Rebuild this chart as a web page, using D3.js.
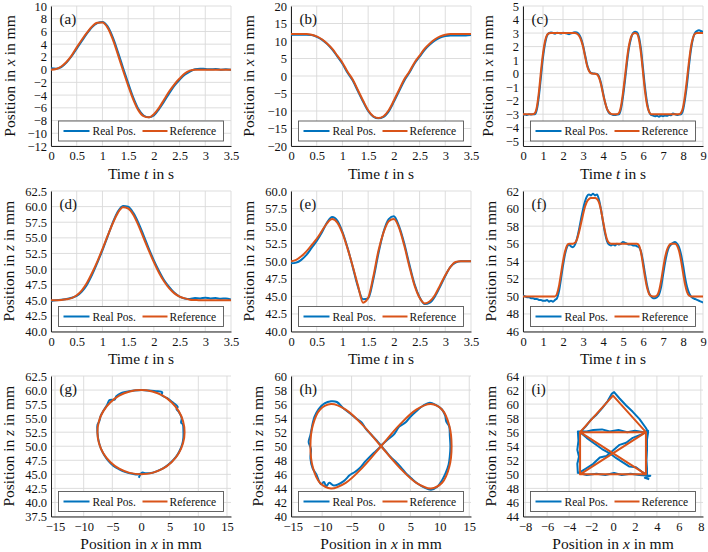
<!DOCTYPE html>
<html><head><meta charset="utf-8">
<script src="https://cdn.jsdelivr.net/npm/d3@7"></script>
<style>body{margin:0;background:#fff}svg{display:block}</style>
</head><body><svg id="c" width="708" height="552"></svg>
<script>
// ---------------- DATA ----------------
const legendLabels = ["Real Pos.", "Reference"];
const panelLetters = ["(a)","(b)","(c)","(d)","(e)","(f)","(g)","(h)","(i)"];

const ticksT35 = [0,0.5,1,1.5,2,2.5,3,3.5];
const ticksT9 = [0,1,2,3,4,5,6,7,8,9];
const ticksYA = [-12,-10,-8,-6,-4,-2,0,2,4,6,8,10];
const ticksYB = [-20,-15,-10,-5,0,5,10,15,20];
const ticksYC = [-5,-4,-3,-2,-1,0,1,2,3,4,5];
const ticksYD = [40,42.5,45,47.5,50,52.5,55,57.5,60,62.5];
const ticksYE = [40,42.5,45,47.5,50,52.5,55,57.5,60];
const ticksYF = [46,48,50,52,54,56,58,60,62];
const ticksXG = [-15,-10,-5,0,5,10,15];
const ticksYG = [37.5,40,42.5,45,47.5,50,52.5,55,57.5,60,62.5];
const ticksXH = [-15,-10,-5,0,5,10,15];
const ticksYH = [40,42,44,46,48,50,52,54,56,58,60];
const ticksXI = [-8,-6,-4,-2,0,2,4,6,8];
const ticksYI = [44,46,48,50,52,54,56,58,60,62,64];

// time samples (0.1 s spacing)
const time35 = d3.range(36).map(i => i / 10);
const time9 = d3.range(91).map(i => i / 10);

const aRef = [0,0.1,0.5,1.2,2.2,3.5,4.7,5.8,6.8,7.35,7.4,6.6,4.8,2.4,-0.1,-2.5,-4.7,-6.4,-7.3,-7.5,-7.0,-6.0,-4.7,-3.4,-2.3,-1.4,-0.6,-0.15,0,0,0,0,0,0,0,0];
const aReal = [0.2,0.15,0.4,1.1,2.1,3.3,4.5,5.7,6.7,7.3,7.5,6.8,5.1,2.8,0.3,-2.1,-4.4,-6.2,-7.2,-7.5,-7.2,-6.2,-5.0,-3.7,-2.5,-1.6,-0.8,-0.3,0.05,0.15,0.1,0.05,0.1,0,0.05,0];

const bRef = [12,12,12,12,11.8,11.3,10.5,9.3,7.8,5.8,3.8,1.2,-1,-4,-7,-9.8,-11.5,-12,-11.5,-9.8,-7,-4,-1,1.2,3.8,5.8,7.8,9.3,10.5,11.3,11.8,12,12,12,12,12];
const bReal = [11.8,11.8,11.8,11.8,11.7,11.2,10.4,9.2,7.6,5.6,3.5,0.9,-1.3,-4.3,-7.3,-10.0,-11.6,-12.1,-11.7,-10.1,-7.4,-4.4,-1.4,0.9,3.5,5.5,7.5,9.0,10.2,11.0,11.4,11.6,11.6,11.6,11.6,11.7];

const cRef = [-3,-3,-3,-3,-3,-3,
  -2.9,-2.4,-1.3,0.2,1.5,2.4,2.85,2.98,3,
  3,3,3,3,3,3,3,3,3,3,3,3,
  2.95,2.8,2.5,2.0,1.3,0.6,0.2,0.03,0,0,-0.05,-0.3,-0.8,-1.5,-2.1,-2.6,-2.85,-2.97,-3,-3,-3,
  -2.9,-2.4,-1.4,-0.2,1.1,2.1,2.7,2.95,3,2.95,2.5,1.5,0.1,-1.3,-2.3,-2.8,-3,
  -3,-3,-3,-3,-3,-3,-3,-3,-3,-3,-3,-3,-3,-3,
  -2.9,-2.5,-1.6,-0.4,0.9,2.0,2.65,2.95,3,
  3,3,3];
const cReal = [-3.05,-3.02,-3.05,-3.0,-3.03,-3.0,
  -3.0,-2.6,-1.6,-0.2,1.2,2.2,2.8,3.0,3.05,
  3.0,2.95,3.02,3.0,2.97,3.03,3.0,2.96,2.92,2.98,3.02,3.06,
  3.05,2.9,2.6,2.1,1.4,0.7,0.25,0.05,0.02,0.0,-0.02,-0.2,-0.7,-1.4,-2.1,-2.6,-2.9,-3.0,-3.05,-3.05,-3.02,
  -3.0,-2.6,-1.7,-0.5,0.8,1.9,2.6,3.0,3.1,3.05,2.7,1.8,0.4,-1.0,-2.1,-2.8,-3.05,
  -3.1,-3.15,-3.12,-3.18,-3.1,-3.15,-3.1,-3.12,-3.05,-3.08,-2.95,-3.0,-3.05,-3.02,
  -3.0,-2.7,-1.9,-0.8,0.6,1.8,2.6,3.0,3.15,
  3.2,3.15,3.1];

const dRef = [45,45,45.05,45.15,45.35,45.8,46.6,47.8,49.4,51.2,53.2,55.3,57.3,59.0,59.9,59.7,58.7,57.0,55.0,53.0,51.1,49.4,48.0,46.9,46.1,45.6,45.3,45.1,45.05,45,45,45,45,45,45,45];
const dReal = [44.9,45.0,45.1,45.2,45.4,45.7,46.4,47.5,49.1,51.0,53.0,55.2,57.4,59.2,60.1,60.0,59.0,57.4,55.4,53.3,51.4,49.7,48.2,47.1,46.2,45.6,45.3,45.2,45.35,45.3,45.4,45.3,45.35,45.25,45.3,45.1];

const eRef = [50.0,50.2,50.7,51.4,52.3,53.2,54.3,55.4,56.0,55.5,54.0,51.8,49.3,46.6,44.1,44.8,47.8,51.5,54.1,55.7,56.0,54.8,52.3,49.3,46.6,44.8,44.0,44.3,45.2,46.6,48.0,49.2,49.9,50,50,50];
const eReal = [49.7,49.8,50.2,50.9,51.9,52.9,54.1,55.5,56.3,55.8,54.2,51.9,49.2,46.4,44.6,44.7,47.4,51.1,54.2,56.0,56.4,55.0,52.6,49.6,46.8,44.9,43.9,44.1,45.0,46.4,47.9,49.2,49.8,50.0,50.0,50.0];

const fRef = [50,50,50,50,50,50,50,50,50,50,50,50,50,50,50,50,50,
  50.3,51.2,52.6,54.0,55.1,55.8,56.0,56.0,56.0,56.1,56.5,57.3,58.3,59.3,60.2,60.8,61.1,61.2,61.2,61.2,61.1,60.7,59.8,58.6,57.4,56.5,56.1,
  56,56,56,56,56,56,56,56,56,56,56,56,56,56,
  55.8,55.0,53.6,52.2,51.0,50.3,50.05,50,50,50.1,50.6,51.7,53.1,54.4,55.3,55.8,56.0,56.0,56.0,55.8,55.2,54.1,52.7,51.4,50.5,50.1,
  50,50,50,50,50,50,50];
const fReal = [50.1,50.0,49.9,49.9,49.8,49.8,49.7,49.7,49.6,49.6,49.5,49.5,49.6,49.4,49.5,49.4,49.6,
  49.8,50.6,52.0,53.5,54.8,55.6,55.9,55.7,55.6,55.9,56.6,57.6,58.8,59.9,60.8,61.4,61.6,61.5,61.7,61.5,61.6,61.0,59.9,58.5,57.2,56.3,55.9,
  55.8,55.9,55.8,56.0,55.9,56.0,56.2,56.1,56.0,55.9,55.9,55.8,55.8,55.7,
  55.6,55.1,54.0,52.6,51.3,50.4,50.0,49.8,49.8,49.9,50.2,51.0,52.4,53.8,54.9,55.6,55.9,56.1,56.2,56.0,55.6,54.8,53.6,52.2,51.1,50.4,
  50.0,49.8,49.7,49.6,49.5,49.4,49.3];

const gRefX = [0,1.97,3.8,5.37,6.58,7.34,7.6,7.34,6.58,5.37,3.8,1.97,0,-1.97,-3.8,-5.37,-6.58,-7.34,-7.6,-7.34,-6.58,-5.37,-3.8,-1.97];
const gRefZ = [45,45.26,46.0,47.2,48.75,50.56,52.5,54.44,56.25,57.8,59.0,59.74,60,59.74,59.0,57.8,56.25,54.44,52.5,50.56,48.75,47.2,46.0,45.26];
const gRealX = [-0.4,0.2,0.8,2.0,3.1,4.2,5.2,6.1,6.7,7.2,7.4,7.4,7.3,7.0,7.1,6.6,6.2,6.4,5.4,4.5,3.6,3.7,2.6,1.4,0.2,-1.2,-2.5,-3.4,-4.3,-4.6,-5.5,-5.9,-6.5,-7.0,-7.3,-7.6,-7.6,-7.4,-7.0,-6.4,-5.7,-4.8,-3.8,-2.7,-1.5,-0.4,0.3];
const gRealZ = [44.4,45.3,45.2,45.3,45.7,46.3,47.1,48.1,49.1,50.4,51.6,52.8,53.9,54.2,55.0,56.1,56.6,57.0,57.9,58.6,59.1,59.6,59.8,59.9,60.0,59.9,59.7,59.5,58.9,58.3,58.2,57.4,56.4,55.5,54.4,53.8,52.5,51.0,49.6,48.4,47.4,46.5,45.9,45.4,45.1,45.0,45.3];

const hRefX = [0,3.11,6,8.49,10.39,11.59,12,11.59,10.39,8.49,6,3.11,0,-3.11,-6,-8.49,-10.39,-11.59,-12,-11.59,-10.39,-8.49,-6,-3.11];
const hRefZ = [50,53,55.2,56,55.2,53,50,47,44.8,44,44.8,47,50,53,55.2,56,55.2,53,50,47,44.8,44,44.8,47];
const hRealX = [0,1.2,2.2,3.1,4.2,5.0,6.0,7.2,8.3,9.3,10.3,10.9,11.1,11.6,11.7,11.8,11.7,11.5,11.0,10.4,9.5,8.5,7.4,6.2,5.2,4.3,3.4,2.5,1.6,0.8,0,-0.7,-1.6,-2.6,-3.3,-4.3,-5.3,-6.4,-7.5,-8.5,-9.6,-10.6,-11.3,-11.6,-12.0,-12.3,-11.9,-12.0,-11.6,-11.0,-10.2,-9.7,-9.3,-8.8,-8.0,-6.4,-5.3,-4.5,-3.6,-2.7,-1.8,-0.9,0];
const hRealZ = [50.1,51.0,51.7,52.8,53.4,54.2,55.0,55.8,56.2,55.9,55.3,54.4,53.5,52.8,51.5,50.0,48.6,47.4,46.2,45.2,44.2,43.8,44.1,44.7,45.4,46.1,47.0,47.8,48.5,49.3,50.1,50.8,51.6,52.5,53.4,54.0,54.7,55.4,56.3,56.4,56.1,55.3,54.2,53.3,51.6,50.6,49.6,48.3,46.8,46.0,44.6,44.9,44.3,44.8,44.4,45.0,45.9,46.3,46.9,47.8,48.6,49.3,50.0];

const iRefX = [-3,-3,3,-3,3,-3,0,3,3];
const iRefZ = [50,56,56,50,50,56,61.2,56,50];
const iRealX = [-3.2,-3.25,-3.1,-3.25,-3.15,-3.2,-2.4,-1.8,-1.0,-0.3,0.5,1.3,2.0,2.8,3.2,2.6,1.8,1.2,0.6,0,-0.6,-1.2,-1.8,-2.5,-3.1,-2.4,-1.5,-0.7,0.1,0.8,1.6,2.4,3.2,2.6,2.1,1.5,0.9,0.3,-0.3,-1.0,-1.7,-2.4,-3.0,-2.5,-2.0,-1.5,-1.0,-0.5,-0.1,0.1,0.6,1.2,1.8,2.4,3.0,3.2,3.1,3.1,3.05,3.1,3.1,3.4,2.9,3.3];
const iRealZ = [50.1,51.5,52.5,53.5,54.8,56.1,56.1,56.3,56.4,56.1,56.3,56.0,56.2,56.0,56.2,55.7,55.2,54.5,54.2,53.4,52.6,52.4,51.5,50.8,50.2,49.9,50.1,49.9,50.2,49.9,50.1,49.9,49.8,50.4,51.0,51.1,51.7,52.3,53.0,53.6,54.4,55.2,56.0,56.8,57.8,58.5,59.4,60.4,61.5,61.7,60.8,59.8,58.9,57.9,56.6,56.0,55.0,53.5,52.0,50.8,49.8,49.8,49.5,49.3];

// ---------------- LAYOUT ----------------
const COLS = [[51,231],[291,471],[523,703]];
const ROWS = [[6,146],[191,331.5],[376,516.5]];
const BLUE = "#0072BD", ORANGE = "#D95319";
const FONT = '"Liberation Serif","DejaVu Serif",serif';
const zip = (a,b) => a.map((v,i)=>[v,b[i]]);
const fmtPlain = d => (d<0?"\u2212":"") + String(Math.abs(d));
const fmt1 = d => (d<0?"\u2212":"") + Math.abs(d).toFixed(1);

const panels = [
 {col:0,row:0,xd:[0,3.5],xt:ticksT35,yd:[-12,10],yt:ticksYA,yf:fmtPlain,real:zip(time35,aReal),ref:zip(time35,aRef),xl:"time",yl:"x",yOff:41.5,type:"t"},
 {col:1,row:0,xd:[0,3.5],xt:ticksT35,yd:[-20,20],yt:ticksYB,yf:fmtPlain,real:zip(time35,bReal),ref:zip(time35,bRef),xl:"time",yl:"x",yOff:42,type:"t"},
 {col:2,row:0,xd:[0,9],xt:ticksT9,yd:[-5.35,5],yt:ticksYC,yf:fmtPlain,real:zip(time9,cReal),ref:zip(time9,cRef),xl:"time",yl:"x",yOff:35,type:"t"},
 {col:0,row:1,xd:[0,3.5],xt:ticksT35,yd:[40,62.5],yt:ticksYD,yf:fmt1,real:zip(time35,dReal),ref:zip(time35,dRef),xl:"time",yl:"z",yOff:42,type:"t"},
 {col:1,row:1,xd:[0,3.5],xt:ticksT35,yd:[40,60],yt:ticksYE,yf:fmt1,real:zip(time35,eReal),ref:zip(time35,eRef),xl:"time",yl:"z",yOff:42.5,type:"t"},
 {col:2,row:1,xd:[0,9],xt:ticksT9,yd:[46,62],yt:ticksYF,yf:fmtPlain,real:zip(time9,fReal),ref:zip(time9,fRef),xl:"time",yl:"z",yOff:32.5,type:"t"},
 {col:0,row:2,xd:[-15.7,15.7],xt:ticksXG,yd:[37.5,62.5],yt:ticksYG,yf:fmt1,real:zip(gRealX,gRealZ),ref:zip(gRefX,gRefZ),xl:"pos",yl:"z",yOff:42,type:"closed"},
 {col:1,row:2,xd:[-15.3,15.3],xt:ticksXH,yd:[40,60],yt:ticksYH,yf:fmtPlain,real:zip(hRealX,hRealZ),ref:zip(hRefX,hRefZ),xl:"pos",yl:"z",yOff:33.5,type:"closed"},
 {col:2,row:2,xd:[-8.2,8.2],xt:ticksXI,yd:[44,64],yt:ticksYI,yf:fmtPlain,real:zip(iRealX,iRealZ),ref:zip(iRefX,iRefZ),xl:"pos",yl:"z",yOff:32.5,type:"poly"}
];

const svg = d3.select("#c");
svg.append("rect").attr("width",708).attr("height",552).attr("fill","#fff");
const defs = svg.append("defs");

function serif(sel, size) {
  return sel.attr("font-family", null).style("font-family", FONT).style("font-size", size + "px");
}

panels.forEach((p,k) => {
  const [l,r] = COLS[p.col], [t,b] = ROWS[p.row];
  const x = d3.scaleLinear().domain(p.xd).range([l,r]);
  const y = d3.scaleLinear().domain(p.yd).range([b,t]);
  const g = svg.append("g");

  // grid
  g.append("g").selectAll("line").data(p.xt).join("line")
    .attr("x1",d=>x(d)).attr("x2",d=>x(d)).attr("y1",t).attr("y2",b)
    .attr("stroke","#d9d9d9").attr("stroke-width",0.9);
  g.append("g").selectAll("line").data(p.yt).join("line")
    .attr("y1",d=>y(d)).attr("y2",d=>y(d)).attr("x1",l).attr("x2",r)
    .attr("stroke","#d9d9d9").attr("stroke-width",0.9);

  // axes
  const ax = g.append("g").attr("transform",`translate(0,${b})`)
    .call(d3.axisBottom(x).tickValues(p.xt).tickFormat(fmtPlain).tickSize(0).tickSizeOuter(0).tickPadding(5.5));
  const ay = g.append("g").attr("transform",`translate(${l},0)`)
    .call(d3.axisLeft(y).tickValues(p.yt).tickFormat(p.yf).tickSize(0).tickSizeOuter(0).tickPadding(4));
  [ax,ay].forEach(a => {
    a.attr("font-family", null).attr("font-size", null);
    a.select(".domain").attr("stroke","#222").attr("stroke-width",1);
    serif(a.selectAll("text"), 12.5).attr("fill","#111");
  });

  // clip
  const cid = "clip"+k;
  defs.append("clipPath").attr("id",cid).append("rect")
    .attr("x",l).attr("y",t).attr("width",r-l).attr("height",b-t);
  const plot = g.append("g").attr("clip-path",`url(#${cid})`);

  let cRef, cReal;
  if (p.type==="t") { cRef = d3.curveMonotoneX; cReal = d3.curveMonotoneX; }
  else if (p.type==="closed") { cRef = d3.curveCatmullRomClosed; cReal = d3.curveCatmullRom; }
  else { cRef = d3.curveLinear; cReal = d3.curveLinear; }

  const lineReal = d3.line().x(d=>x(d[0])).y(d=>y(d[1])).curve(cReal);
  const lineRef = d3.line().x(d=>x(d[0])).y(d=>y(d[1])).curve(cRef);
  plot.append("path").datum(p.real).attr("d",lineReal)
    .attr("fill","none").attr("stroke",BLUE).attr("stroke-width",2).attr("stroke-linejoin","round");
  plot.append("path").datum(p.ref).attr("d",lineRef)
    .attr("fill","none").attr("stroke",ORANGE).attr("stroke-width",2).attr("stroke-linejoin","round");

  // panel letter
  serif(g.append("text").attr("x",l+8.5).attr("y",t+18), 15)
    .attr("fill","#111").text(panelLetters[k]);

  // legend
  const lw = 165, lh = 20;
  const lx = (l+r)/2 - lw/2, ly = b - 5 - lh;
  const lg = g.append("g").attr("transform",`translate(${lx},${ly})`);
  lg.append("rect").attr("width",lw).attr("height",lh).attr("fill","#fff")
    .attr("stroke","#555").attr("stroke-width",0.9);
  [[5,31,34,BLUE],[84,109,111,ORANGE]].forEach((e,i) => {
    lg.append("line").attr("x1",e[0]).attr("x2",e[1]).attr("y1",lh/2).attr("y2",lh/2)
      .attr("stroke",e[3]).attr("stroke-width",2);
    serif(lg.append("text").attr("x",e[2]).attr("y",lh/2+4), 11.5)
      .attr("fill","#111").text(legendLabels[i]);
  });

  // x title
  const xt = serif(g.append("text").attr("x",(l+r)/2).attr("y",b+32.5).attr("text-anchor","middle"), 15.5)
    .attr("fill","#111");
  if (p.xl==="time") {
    xt.append("tspan").text("Time ");
    xt.append("tspan").attr("font-style","italic").text("t");
    xt.append("tspan").text(" in s");
  } else {
    xt.append("tspan").text("Position in ");
    xt.append("tspan").attr("font-style","italic").text("x");
    xt.append("tspan").text(" in mm");
  }
  // y title
  const yt = serif(g.append("text").attr("transform",`translate(${l-p.yOff},${(t+b)/2}) rotate(-90)`)
    .attr("text-anchor","middle").attr("dy","0.33em"), 15.5).attr("fill","#111");
  yt.append("tspan").text("Position in ");
  yt.append("tspan").attr("font-style","italic").text(p.yl);
  yt.append("tspan").text(" in mm");
});
</script></body></html>
